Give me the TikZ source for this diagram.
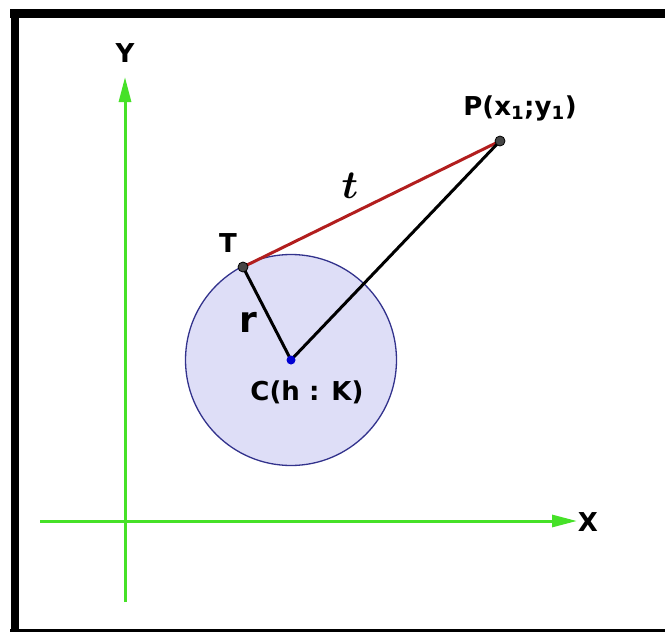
\documentclass[tikz,border=0pt]{standalone}
\usepackage{fontspec}
\setsansfont{DejaVu Sans}
\usetikzlibrary{arrows.meta}
\definecolor{axisgreen}{RGB}{70,225,40}
\definecolor{tanred}{RGB}{178,30,30}
\definecolor{circfill}{RGB}{222,222,247}
\definecolor{circline}{RGB}{50,50,140}
\definecolor{dotgrey}{RGB}{70,70,70}
\definecolor{cblue}{RGB}{0,0,210}
\tikzset{
  axis/.style={draw=axisgreen, line width=3pt, -{Triangle[length=25pt,width=12pt]}},
  lbl/.style={font=\sffamily\bfseries\fontsize{26}{30}\selectfont, inner sep=0pt, anchor=base},
  seg/.style={line width=3pt, line cap=round},
  ptdot/.style={circle, fill=dotgrey, draw=black, line width=0.8pt, minimum size=10pt, inner sep=0pt},
  cdot/.style={circle, fill=cblue, minimum size=9pt, inner sep=0pt},
  frame/.style={fill=black}
}
\begin{document}
\begin{tikzpicture}[x=1pt,y=-1pt]
\useasboundingbox (0,0) rectangle (665,632);
% frame
\fill[frame] (10,9) rectangle (665,17.5);
\fill[frame] (10.5,9) rectangle (19,632);
\fill[frame] (10,629) rectangle (665,632);
% axes
\coordinate (yb) at (125,602);
\coordinate (yt) at (125,77);
\coordinate (xl) at (40,521);
\coordinate (xr) at (577,521);
\draw[axis] (yb) -- (yt);
\draw[axis] (xl) -- (xr);
\node[lbl] (ylab) at (125,62) {Y};
\node[lbl] (xlab) at (588,531) {X};
% circle
\node[circle, fill=circfill, draw=circline, line width=1.3pt, minimum size=211pt, inner sep=0pt] (circ) at (291,360) {};
% points
\coordinate (C) at (291,360);
\coordinate (T) at (243,267);
\coordinate (P) at (500,141);
\draw[seg, draw=tanred] (T) -- (P);
\draw[seg, black] (T) -- (C) -- (P);
\node[ptdot] (Tdot) at (T) {};
\node[ptdot] (Pdot) at (P) {};
\node[cdot] (Cdot) at (C) {};
% labels
\node[lbl] (tl) at (228,252) {T};
\node[lbl] (pl) at (520,115) {P(x\textsubscript{1};y\textsubscript{1})};
\node[lbl] (cl) at (307,400) {C(h : K)};
\node[lbl, font=\sffamily\bfseries\fontsize{36}{40}\selectfont] (rl) at (248,332) {r};
\node[inner sep=0pt, anchor=base, scale=4, font=\boldmath] (tt) at (350,198) {$t$};
\end{tikzpicture}
\end{document}
